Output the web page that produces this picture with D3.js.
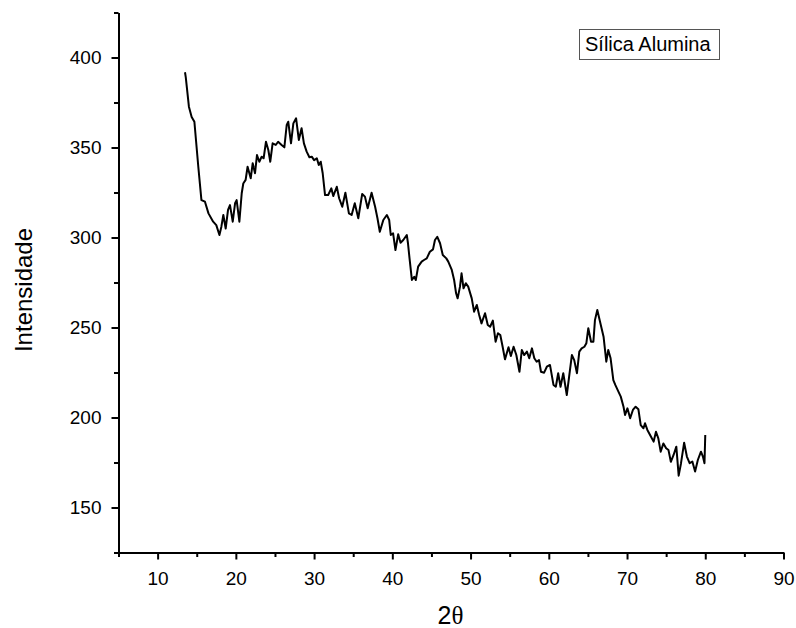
<!DOCTYPE html>
<html>
<head>
<meta charset="utf-8">
<script src="https://cdn.jsdelivr.net/npm/d3@7"></script>
<style>
  html, body { margin: 0; padding: 0; background: #fff; }
  svg { display: block; }
  .axis path, .axis line { stroke: #000; stroke-width: 2; }
  .axis text { font-family: "Liberation Sans", Arial, sans-serif; font-size: 19px; fill: #000; }
</style>
</head>
<body>
<svg id="chart" width="796" height="628"></svg>
<script>
// XRD pattern: 2θ (degrees) vs. intensity
const twoTheta = [
  13.5, 13.6, 14.0, 14.35, 14.7, 15.2, 15.6, 16.05, 16.5, 17.1,
  17.5, 17.9, 18.15, 18.4, 18.7, 19.0, 19.25, 19.6, 19.9, 20.1,
  20.45, 20.75, 20.95, 21.25, 21.5, 21.9, 22.15, 22.45, 22.7, 23.0,
  23.3, 23.55, 23.85, 24.15, 24.4, 24.7, 25.1, 25.4, 25.85, 26.2,
  26.5, 26.7, 27.05, 27.35, 27.7, 28.05, 28.4, 28.7, 29.05, 29.4,
  29.7, 30.0, 30.35, 30.6, 30.85, 31.1, 31.4, 31.8, 32.2, 32.45,
  32.9, 33.2, 33.6, 34.0, 34.45, 34.8, 35.2, 35.65, 36.15, 36.5,
  36.85, 37.35, 37.8, 38.1, 38.4, 38.85, 39.3, 39.6, 39.8, 40.1,
  40.4, 40.75, 41.05, 41.4, 41.85, 42.0, 42.2, 42.5, 42.8, 43.0,
  43.3, 43.75, 44.05, 44.4, 44.8, 45.2, 45.45, 45.75, 46.1, 46.45,
  46.9, 47.15, 47.6, 47.9, 48.15, 48.35, 48.65, 48.85, 49.1, 49.4,
  49.7, 50.15, 50.45, 50.8, 51.1, 51.4, 51.85, 52.2, 52.5, 52.85,
  53.2, 53.5, 53.8, 54.1, 54.4, 54.85, 55.15, 55.5, 55.85, 56.25,
  56.55, 56.85, 57.2, 57.5, 57.85, 58.15, 58.45, 58.75, 59.0, 59.4,
  59.75, 60.15, 60.6, 60.9, 61.2, 61.5, 61.85, 62.3, 62.6, 62.95,
  63.25, 63.6, 63.9, 64.2, 64.55, 64.8, 65.05, 65.4, 65.7, 65.9,
  66.2, 66.55, 67.0, 67.35, 67.6, 67.9, 68.25, 68.5, 68.9, 69.2,
  69.55, 69.75, 70.05, 70.4, 70.75, 71.1, 71.45, 71.75, 72.1, 72.3,
  72.6, 73.05, 73.4, 73.7, 74.0, 74.3, 74.65, 75.0, 75.3, 75.6,
  75.95, 76.3, 76.6, 76.9, 77.3, 77.65, 78.0, 78.35, 78.7, 79.05,
  79.45, 79.7, 79.9, 80.0
];
const intensity = [
  391.8, 389, 372.7, 367, 364.3, 339.3, 320.8, 319.9, 313.4, 308.8,
  306.9, 301.4, 306, 312.5, 305, 315.3, 318, 308.8, 319, 320.8,
  308.8, 324.6, 330, 332, 339.3, 332.9, 341.2, 335.7, 345.8, 342.1,
  344.9, 344, 353.2, 348.6, 342.1, 352.3, 351.4, 353.2, 351.4, 350.1,
  362.5, 364.3, 352.3, 363.4, 366.2, 354.2, 360.7, 352.3, 347.7, 344.6,
  344.9, 343, 344, 340.3, 342.1, 335.7, 323.6, 323.6, 327.3, 323,
  328.2, 321.8, 317.1, 324.9, 313.4, 312.5, 319, 310.7, 324.2, 322.7,
  316.2, 324.9, 317.1, 310.7, 303.2, 309.7, 312.5, 309.7, 301.4, 302.3,
  293, 301.8, 297.1, 298.6, 301.4, 296.8, 288.4, 276.4, 278.2, 276.4,
  283.8, 286.6, 287.5, 288.4, 292.1, 293.4, 298.6, 300.4, 296.8, 290.3,
  288.4, 286.6, 282, 276.4, 269, 266.2, 272.7, 280.1, 271.8, 274.6,
  272.7, 266.2, 258.8, 262.5, 256.9, 252.3, 257.9, 251.4, 250.4, 253.8,
  242.1, 246.8, 245.8, 239.3, 232.3, 239, 234.2, 239.3, 234.7, 225.4,
  237.5, 234.7, 236.6, 232.9, 238.4, 232.9, 231, 231.9, 225.4, 224.9,
  228.2, 229.2, 218.1, 217.1, 224.6, 217.1, 224.6, 212.5, 222.7, 234.7,
  231.9, 224.6, 236.6, 238.4, 239.3, 241.2, 249.6, 242.1, 242.1, 254.1,
  259.7, 253.2, 244.9, 231, 237.5, 232.9, 220.8, 218.1, 214.4, 211.6,
  206, 201.4, 205.1, 199.6, 204.2, 206, 204.6, 195.8, 194, 196.8,
  193.1, 189.4, 186.6, 192.1, 188.4, 181, 185.6, 182.9, 181.9, 175.4,
  179.2, 183.8, 167.7, 174.6, 186, 178.3, 174.6, 175.5, 170, 176.4,
  181, 178.3, 174.6, 190.3
];

// Axis ticks (major labelled, minor halfway between)
const xMajorTicks = [10, 20, 30, 40, 50, 60, 70, 80, 90];
const xMinorTicks = [5, 15, 25, 35, 45, 55, 65, 75, 85];
const yMajorTicks = [150, 200, 250, 300, 350, 400];
const yMinorTicks = [125, 175, 225, 275, 325, 375, 425];

const seriesName = "Sílica Alumina";
const xTitle = "2";
const xTitleSymbol = "θ";
const yTitle = "Intensidade";

const svg = d3.select("#chart");

const x = d3.scaleLinear().domain([5, 90]).range([118.5, 783.5]);
const y = d3.scaleLinear().domain([125, 425]).range([552.5, 12.5]);

// x axis: minor then major ticks
svg.append("g")
  .attr("class", "axis")
  .attr("transform", "translate(0,552.5)")
  .call(d3.axisBottom(x).tickValues(xMinorTicks).tickSize(4.5).tickFormat(""))
  .call(g => g.select(".domain").remove());
svg.append("g")
  .attr("class", "axis")
  .attr("transform", "translate(0,552.5)")
  .call(d3.axisBottom(x).tickValues(xMajorTicks).tickSize(7).tickSizeOuter(0).tickPadding(12).tickFormat(d3.format("d")));

// y axis
svg.append("g")
  .attr("class", "axis")
  .attr("transform", "translate(118.5,0)")
  .call(d3.axisLeft(y).tickValues(yMinorTicks).tickSize(4.5).tickFormat(""))
  .call(g => g.select(".domain").remove());
svg.append("g")
  .attr("class", "axis")
  .attr("transform", "translate(118.5,0)")
  .call(d3.axisLeft(y).tickValues(yMajorTicks).tickSize(7).tickSizeOuter(0).tickPadding(10).tickFormat(d3.format("d")));

// curve
const pts = twoTheta.map((t, i) => [t, intensity[i]]);
svg.append("path")
  .datum(pts)
  .attr("fill", "none")
  .attr("stroke", "#000")
  .attr("stroke-width", 2)
  .attr("stroke-linejoin", "round")
  .attr("d", d3.line().x(d => x(d[0])).y(d => y(d[1])));

// legend
const legend = svg.append("g");
legend.append("rect")
  .attr("x", 579.5).attr("y", 29.5)
  .attr("width", 140).attr("height", 30)
  .attr("fill", "#fff").attr("stroke", "#555").attr("stroke-width", 1);
legend.append("text")
  .attr("x", 585).attr("y", 51)
  .attr("font-family", "Liberation Sans, Arial, sans-serif")
  .attr("font-size", 20)
  .text(seriesName);

// axis titles
const xt = svg.append("text")
  .attr("x", 450.5).attr("y", 624)
  .attr("text-anchor", "middle")
  .attr("font-size", 25);
xt.append("tspan").attr("font-family", "Liberation Sans, Arial, sans-serif").text(xTitle);
xt.append("tspan").attr("font-family", "Liberation Serif, Times New Roman, serif").text(xTitleSymbol);

svg.append("text")
  .attr("transform", "translate(32,290) rotate(-90)")
  .attr("text-anchor", "middle")
  .attr("font-family", "Liberation Sans, Arial, sans-serif")
  .attr("font-size", 24)
  .text(yTitle);
</script>
</body>
</html>
